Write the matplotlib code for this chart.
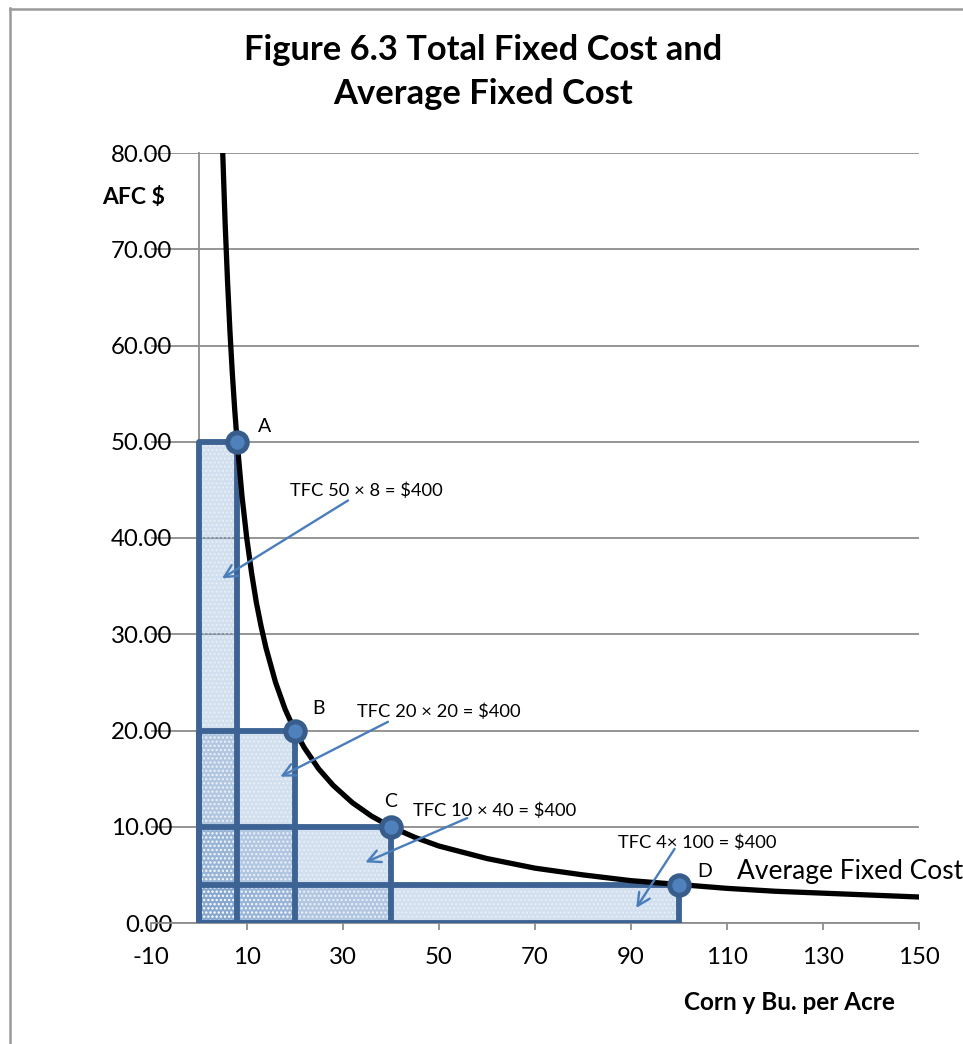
import matplotlib
matplotlib.use("Agg")
import matplotlib.pyplot as plt
from matplotlib.patches import Rectangle
from matplotlib.lines import Line2D

plt.rcParams['font.family'] = ['Lato', 'DejaVu Sans']

# ---- data ----
quantity = [5, 5.5, 6, 6.5, 7, 7.5, 8, 9, 10, 11, 12, 13, 14, 16, 18, 20, 22, 25, 28,
            32, 36, 40, 45, 50, 60, 70, 80, 90, 100, 110, 120, 130, 140, 150]
afc = [80, 72.7, 66.7, 61.5, 57.1, 53.3, 50, 44.4, 40, 36.4, 33.3, 30.8, 28.6, 25, 22.2,
       20, 18.2, 16, 14.3, 12.5, 11.1, 10, 8.9, 8, 6.7, 5.7, 5, 4.4, 4, 3.6, 3.3, 3.1, 2.9, 2.7]

point_names = ['A', 'B', 'C', 'D']
point_q = [8, 20, 40, 100]
point_afc = [50, 20, 10, 4]
tfc_labels = ['TFC 50 \u00d7 8 = $400', 'TFC 20 \u00d7 20 = $400',
              'TFC 10 \u00d7 40 = $400', 'TFC 4\u00d7 100 = $400']

x_ticks = [-10, 10, 30, 50, 70, 90, 110, 130, 150]
y_ticks = [0, 10, 20, 30, 40, 50, 60, 70, 80]

# annotation placement (data coords)
label_pos = [(12.4, 51.6), (23.6, 22.3), (38.6, 12.6), (103.8, 5.3)]
text_pos = [(19.0, 44.9), (33.0, 21.9), (44.6, 11.7), (87.4, 8.3)]
arrow_start = [(31.1, 43.9), (39.4, 20.9), (55.9, 10.9), (99.1, 7.7)]
arrow_end = [(4.85, 35.8), (17.0, 15.2), (34.7, 6.3), (91.1, 1.56)]

W, H = 963, 1044
fig = plt.figure(figsize=(W / 100, H / 100), dpi=100)
ax = fig.add_axes([150.7 / W, 1 - 923 / H, 768.3 / W, 770 / H])
ax.set_xlim(-10, 150)
ax.set_ylim(0, 80)

grid_c = '#8C8C8C'
ax.set_yticks(y_ticks)
ax.set_yticklabels([f'{v:.2f}' for v in y_ticks])
ax.set_xticks(x_ticks)
ax.set_xticklabels([str(v) for v in x_ticks])
ax.yaxis.grid(True, color=grid_c, lw=1.3)
ax.set_axisbelow(True)
for s in ['top', 'right']:
    ax.spines[s].set_visible(False)
ax.spines['left'].set_position(('data', 0))
ax.spines['left'].set_color(grid_c)
ax.spines['left'].set_linewidth(1.3)
ax.spines['bottom'].set_color(grid_c)
ax.spines['bottom'].set_linewidth(1.3)
ax.tick_params(axis='y', length=0, pad=19, labelsize=17.3)
ax.tick_params(axis='x', length=5, width=1.3, color=grid_c, direction='out', pad=12, labelsize=17.3)

# rectangles
edge_c = '#3C6393'
for q, c in zip(point_q, point_afc):
    ax.add_patch(Rectangle((0, 0), q, c, facecolor='#4F81BD', alpha=0.25, lw=0, zorder=2))
    ax.add_patch(Rectangle((0, 0), q, c, facecolor='none', edgecolor='white', hatch='....',
                           lw=0, alpha=0.45, zorder=2.1))
for q, c in zip(point_q, point_afc):
    ax.add_patch(Rectangle((0, 0), q, c, facecolor='none', edgecolor=edge_c, lw=4.2,
                           joinstyle='round', zorder=3))

# curve
ax.plot(quantity, afc, color='black', lw=3.8, zorder=4, solid_capstyle='round')
ax.plot(point_q, point_afc, 'o', ms=14, mfc='#4F81BD', mec='#385D8A', mew=3.6, zorder=5,
        clip_on=False)

arrow_c = '#4A7EBB'
for name, lp, tp, s, e, t in zip(point_names, label_pos, text_pos, arrow_start, arrow_end, tfc_labels):
    ax.text(lp[0], lp[1], name, fontsize=14, ha='left', va='center', zorder=6)
    ax.text(tp[0], tp[1], t, fontsize=13.2, ha='left', va='center', zorder=6)
    ax.annotate('', xy=e, xytext=s,
                arrowprops=dict(arrowstyle='->,head_length=0.9,head_width=0.45', color=arrow_c,
                                lw=1.7, shrinkA=0, shrinkB=0), zorder=6)

ax.text(112, 5.3, 'Average Fixed Cost', fontsize=19, ha='left', va='center', zorder=6)

fig.text(483.5 / W, 1 - 60 / H, 'Figure 6.3 Total Fixed Cost and', fontsize=24.8,
         fontweight='bold', ha='center', va='baseline')
fig.text(483.5 / W, 1 - 104 / H, 'Average Fixed Cost', fontsize=24.8,
         fontweight='bold', ha='center', va='baseline')
fig.text(134 / W, 1 - 198 / H, 'AFC $', fontsize=16.5, fontweight='bold', ha='center', va='center')
fig.text(789 / W, 1 - 1003 / H, 'Corn y Bu. per Acre', fontsize=17.5, fontweight='bold',
         ha='center', va='center')

# outer chart border (left and top edges visible)
fig.add_artist(Line2D([9.5 / W, 9.5 / W], [0, 1 - 8 / H], transform=fig.transFigure,
                      color='#9A9A9A', lw=1.8))
fig.add_artist(Line2D([9.5 / W, 1], [1 - 8.5 / H, 1 - 8.5 / H], transform=fig.transFigure,
                      color='#9A9A9A', lw=1.8))

fig.savefig('out.png', dpi=100)
